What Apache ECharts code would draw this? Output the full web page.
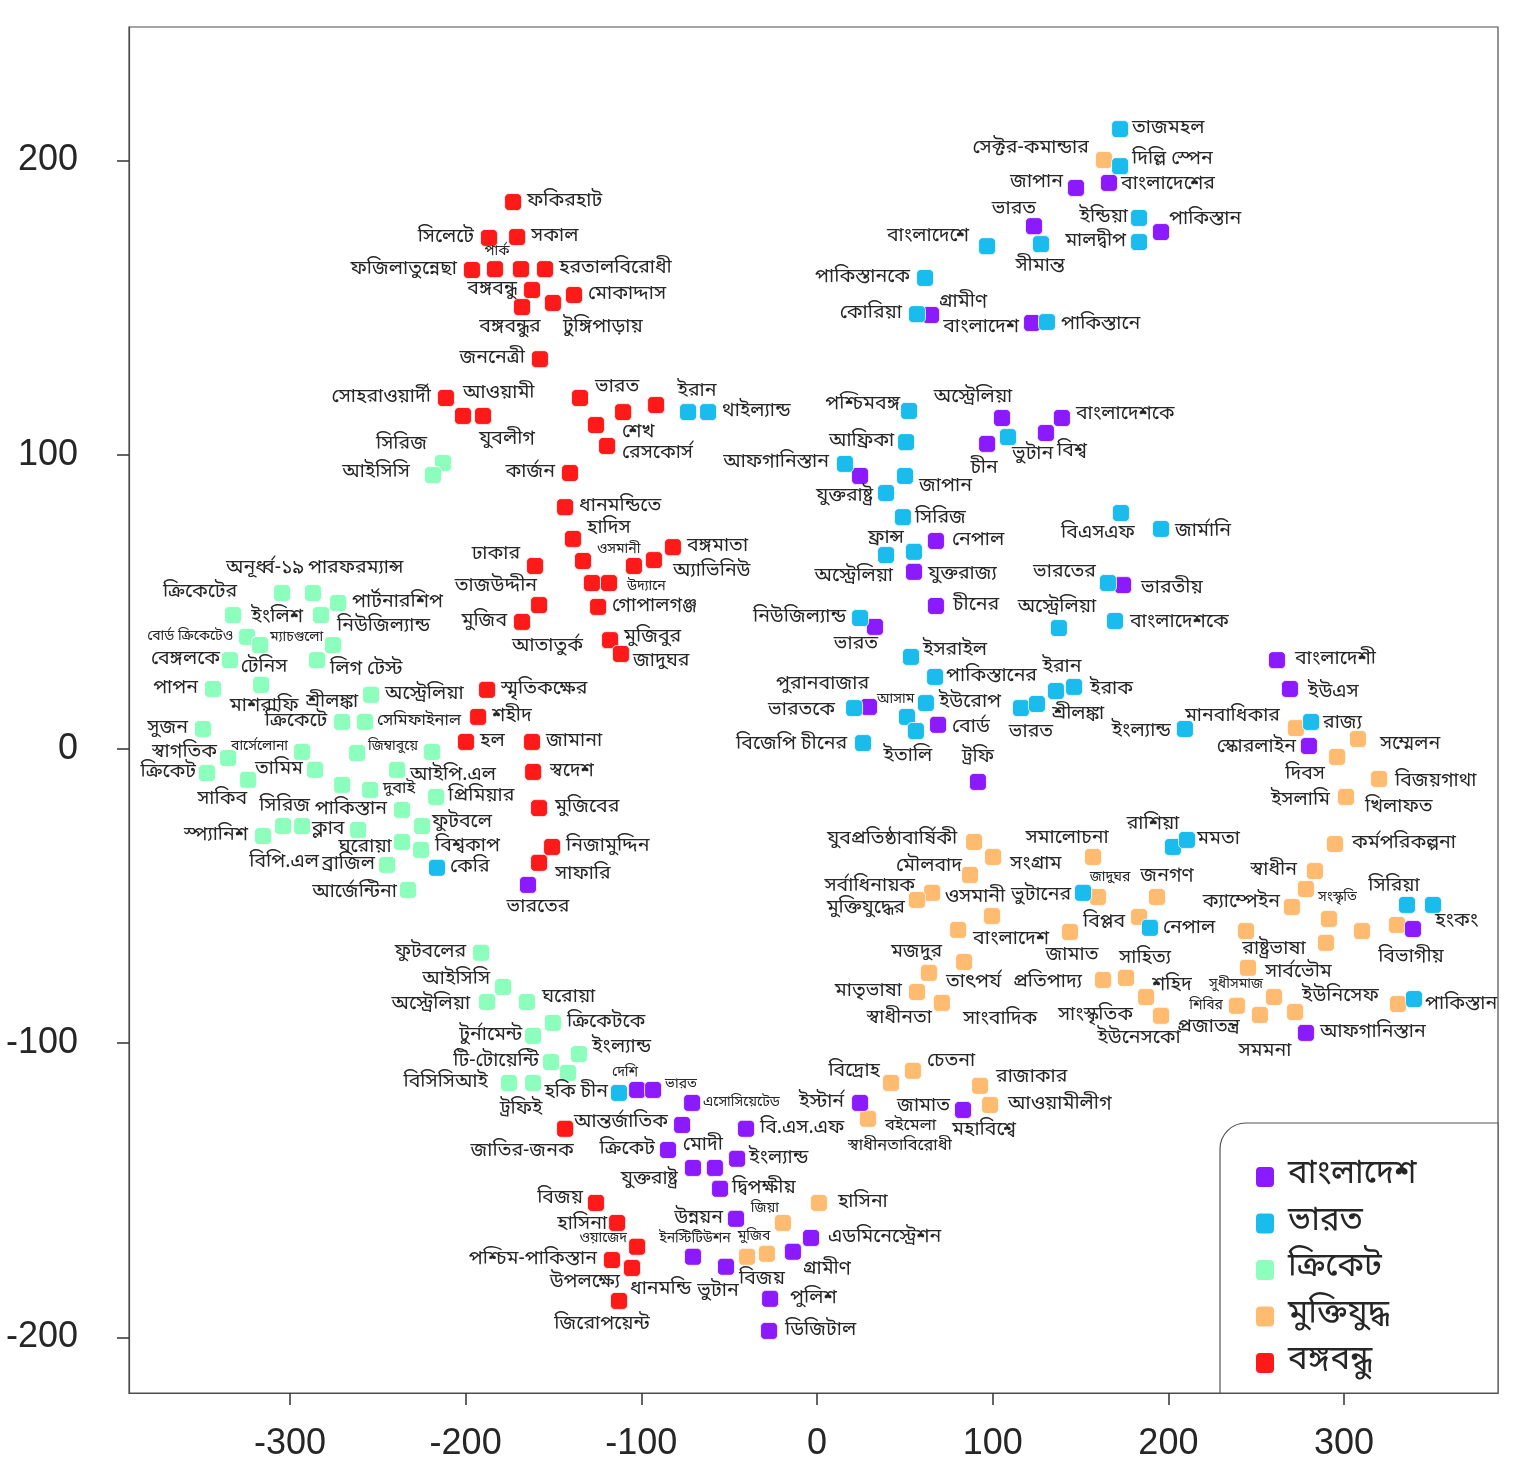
<!DOCTYPE html>
<html>
<head>
<meta charset="UTF-8">
<title>শব্দ ক্লাস্টার</title>
<script src="https://cdn.jsdelivr.net/npm/echarts@6.0.0/dist/echarts.min.js"></script>
<style>
  html, body { margin: 0; padding: 0; background: #fff; }
  #main { width: 1521px; height: 1478px; }
</style>
</head>
<body>
<div id="main"></div>
<script>
// legend order
var groupNames = ['বাংলাদেশ', 'ভারত', 'ক্রিকেট', 'মুক্তিযুদ্ধ', 'বঙ্গবন্ধু'];
var xTicks = [-300, -200, -100, 0, 100, 200, 300];
var yTicks = [-200, -100, 0, 100, 200];

// বঙ্গবন্ধু
var redWords = ['ফকিরহাট','সিলেটে','সকাল','ফজিলাতুন্নেছা','পার্ক','','হরতালবিরোধী','বঙ্গবন্ধু','মোকাদ্দাস','বঙ্গবন্ধুর','টুঙ্গিপাড়ায়','জননেত্রী','সোহরাওয়ার্দী','আওয়ামী','যুবলীগ','ভারত','শেখ','','','রেসকোর্স','কার্জন','ধানমন্ডিতে','হাদিস','ওসমানী','','অ্যাভিনিউ','বঙ্গমাতা','ঢাকার','','উদ্যানে','তাজউদ্দীন','গোপালগঞ্জ','মুজিব','মুজিবুর','আতাতুর্ক','জাদুঘর','স্মৃতিকক্ষের','শহীদ','হল','জামানা','স্বদেশ','মুজিবের','নিজামুদ্দিন','সাফারি','জাতির-জনক','বিজয়','হাসিনা','ওয়াজেদ','পশ্চিম-পাকিস্তান','উপলক্ষ্যে','ধানমন্ডি','জিরোপয়েন্ট'];
var redX = [-173.0,-186.7,-170.7,-196.4,-183.3,-168.5,-154.8,-162.2,-138.3,-167.9,-150.3,-157.7,-211.2,-201.5,-190.1,-134.9,-110.4,-91.6,-125.8,-119.5,-140.6,-143.4,-138.9,-133.2,-104.2,-92.8,-82.0,-160.5,-128.1,-118.4,-158.2,-124.6,-167.9,-117.8,-117.8,-111.6,-187.8,-192.9,-199.8,-162.2,-161.6,-158.2,-150.8,-158.2,-143.4,-125.8,-113.8,-102.4,-116.7,-105.3,-105.3,-112.7];
var redY = [185.9,173.7,174.0,162.8,163.1,163.1,163.1,156.0,154.3,150.2,151.6,132.5,119.3,113.2,113.2,119.3,114.5,116.9,110.1,103.0,93.8,82.2,71.4,63.9,62.2,64.2,68.6,62.2,56.4,56.4,48.9,48.3,43.2,37.0,37.0,32.3,20.1,10.9,2.4,2.4,-7.8,-20.1,-33.3,-38.7,-129.1,-154.3,-161.1,-169.2,-173.7,-176.4,-176.4,-187.6];

// ক্রিকেট
var mintWords = ['সিরিজ','আইসিসি','অনূর্ধ্ব-১৯','পারফরম্যান্স','পার্টনারশিপ','ক্রিকেটের','ইংলিশ','বোর্ড ক্রিকেটেও','ম্যাচগুলো','টেনিস','নিউজিল্যান্ড','বেঙ্গলকে','লিগ টেস্ট','মাশরাফি','পাপন','অস্ট্রেলিয়া','শ্রীলঙ্কা','সুজন','ক্রিকেটে','সেমিফাইনাল','স্বাগতিক','বার্সেলোনা','জিম্বাবুয়ে','','ক্রিকেট','সাকিব','তামিম','আইপি.এল','সিরিজ','দুবাই','প্রিমিয়ার','পাকিস্তান','ফুটবলে','স্প্যানিশ','বিপি.এল','ক্লাব','ঘরোয়া','','বিশ্বকাপ','ব্রাজিল','আর্জেন্টিনা','ফুটবলের','আইসিসি','অস্ট্রেলিয়া','ঘরোয়া','ক্রিকেটকে','টুর্নামেন্ট','ইংল্যান্ড','টি-টোয়েন্টি','হকি','বিসিসিআই','ট্রফিই'];
var mintX = [-212.9,-218.6,-304.5,-286.9,-272.6,-332.4,-282.3,-324.4,-317.0,-317.0,-275.5,-334.1,-284.6,-316.4,-343.8,-253.8,-253.8,-349.5,-270.3,-257.3,-335.2,-293.1,-261.8,-219.1,-347.2,-323.8,-285.7,-239.0,-270.3,-254.4,-216.8,-236.2,-224.8,-315.3,-303.9,-293.1,-261.2,-236.2,-225.4,-244.7,-232.8,-191.2,-178.7,-187.8,-165.1,-150.3,-161.6,-135.5,-151.4,-141.7,-175.3,-161.6];
var mintY = [97.2,93.1,53.0,53.0,49.6,45.5,45.5,38.1,35.3,35.3,35.3,30.2,30.2,21.8,20.4,18.4,18.4,6.8,9.2,9.2,-3.1,-1.0,-1.4,-1.0,-8.2,-10.5,-7.1,-7.1,-12.2,-13.9,-16.3,-20.7,-26.2,-29.6,-26.2,-26.2,-27.5,-31.6,-34.3,-39.4,-47.9,-69.3,-80.9,-86.0,-86.0,-93.1,-97.5,-103.7,-106.4,-110.1,-113.5,-113.5];

// ভারত
var cyanWords = ['তাজমহল','দিল্লি স্পেন','ইন্ডিয়া','মালদ্বীপ','বাংলাদেশে','সীমান্ত','পাকিস্তানকে','কোরিয়া','পাকিস্তানে','ইরান','থাইল্যান্ড','পশ্চিমবঙ্গ','আফ্রিকা','আফগানিস্তান','জাপান','যুক্তরাষ্ট্র','সিরিজ','ফ্রান্স','অস্ট্রেলিয়া','নিউজিল্যান্ড','ভুটান','বিএসএফ','জার্মানি','ভারতের','অস্ট্রেলিয়া','বাংলাদেশকে','ইসরাইল','পাকিস্তানের','ভারতকে','ইউরোপ','আসাম','ইতালি','বিজেপি চীনের','ভারত','শ্রীলঙ্কা','ইরান','ইরাক','ইংল্যান্ড','রাজ্য','রাশিয়া','মমতা','ভুটানের','নেপাল','সিরিয়া','','পাকিস্তান','কেরি','চীন'];
var cyanX = [172.5,172.5,183.3,183.3,96.8,127.5,61.5,56.9,130.9,-73.4,-62.0,52.4,50.7,15.9,50.1,39.3,48.9,55.2,39.3,24.5,108.7,173.0,195.8,165.6,137.7,169.6,53.5,67.2,21.1,62.0,51.2,56.3,26.2,116.1,125.2,136.0,146.3,209.4,281.2,202.6,210.6,151.4,189.5,335.8,350.6,339.8,-216.3,-112.7];
var cyanY = [210.7,198.1,180.5,172.3,170.9,171.6,160.1,147.8,145.1,114.5,114.5,114.9,104.3,96.9,92.8,87.0,78.8,67.0,65.9,44.5,106.0,80.2,74.8,56.4,41.1,43.5,31.3,24.5,13.9,15.6,10.9,6.1,2.0,13.9,15.3,19.7,21.1,6.8,9.2,-33.3,-30.9,-48.9,-60.8,-53.0,-53.0,-85.0,-40.4,-116.9];

// বাংলাদেশ
var purpleWords = ['বাংলাদেশের','জাপান','ভারত','পাকিস্তান','গ্রামীণ','বাংলাদেশ','অস্ট্রেলিয়া','বাংলাদেশকে','চীন','বিশ্ব','','নেপাল','যুক্তরাজ্য','চীনের','ভারত','ভারতীয়','পুরানবাজার','বোর্ড','ট্রফি','বাংলাদেশী','ইউএস','স্কোরলাইন','হংকং','আফগানিস্তান','ভারতের','দেশি','ভারত','এসোসিয়েটেড','আন্তর্জাতিক','বি.এস.এফ','ক্রিকেট','যুক্তরাষ্ট্র','মোদী','ইংল্যান্ড','দ্বিপক্ষীয়','উন্নয়ন','এডমিনেস্ট্রেশন','গ্রামীণ','ইনস্টিটিউশন','ভুটান','পুলিশ','ডিজিটাল','ইস্টার্ন','জামাত','মহাবিশ্বে'];
var purpleX = [166.2,147.4,123.5,195.8,64.9,122.4,105.3,139.4,96.8,130.3,24.5,67.7,55.2,67.7,33.0,174.2,29.6,68.9,91.6,261.8,269.2,280.0,339.2,278.3,-164.5,-102.4,-93.3,-71.1,-76.8,-40.4,-84.8,-70.6,-58.1,-45.5,-55.2,-46.1,-3.4,-13.7,-70.6,-51.8,-26.7,-27.3,24.5,83.1,83.1];
var purpleY = [192.4,190.7,177.7,175.7,147.5,144.8,112.5,112.5,103.7,107.4,92.8,70.7,60.2,48.6,41.5,55.7,14.3,8.2,-11.2,30.2,20.4,1.0,-61.2,-96.5,-46.2,-115.9,-115.9,-120.3,-127.8,-129.1,-136.3,-142.4,-142.4,-139.3,-149.5,-159.7,-166.2,-170.9,-172.6,-176.0,-186.9,-197.8,-120.3,-122.7,-122.7];

// মুক্তিযুদ্ধ
var orangeWords = ['সেক্টর-কমান্ডার','মানবাধিকার','সম্মেলন','দিবস','বিজয়গাথা','ইসলামি','খিলাফত','কর্মপরিকল্পনা','স্বাধীন','সংস্কৃতি','ক্যাম্পেইন','','','বিভাগীয়','রাষ্ট্রভাষা','','সার্বভৌম','সুধীসমাজ','শিবির','সমমনা','ইউনিসেফ','','যুবপ্রতিষ্ঠাবার্ষিকী','সংগ্রাম','মৌলবাদ','সমালোচনা','সর্বাধিনায়ক','মুক্তিযুদ্ধের','ওসমানী','বাংলাদেশ','মজদুর','তাৎপর্য','মাতৃভাষা','স্বাধীনতা','সাংবাদিক','জামাত','জাদুঘর','জনগণ','বিপ্লব','প্রতিপাদ্য','সাহিত্য','শহিদ','সাংস্কৃতিক','ইউনেসকো','প্রজাতন্ত্র','বিদ্রোহ','চেতনা','রাজাকার','বইমেলা','স্বাধীনতাবিরোধী','আওয়ামীলীগ','হাসিনা','জিয়া','মুজিব','বিজয়'];
var orangeX = [163.3,272.6,307.9,296.0,319.9,301.1,301.1,294.8,283.4,278.3,270.3,291.4,310.2,330.1,244.2,289.7,245.3,260.1,239.0,252.1,272.1,330.7,89.4,100.2,87.1,157.1,65.5,56.9,99.6,80.3,83.7,63.7,56.9,71.1,71.1,144.0,159.9,193.5,183.3,162.8,175.9,187.3,195.8,195.8,195.8,42.1,54.6,92.8,29.0,29.0,98.5,1.1,-19.4,-39.8,-28.5];
var orangeY = [200.2,7.1,3.4,-2.7,-10.2,-16.3,-16.3,-32.3,-41.5,-47.6,-53.7,-57.8,-61.9,-59.8,-61.9,-65.9,-74.4,-84.3,-87.3,-90.4,-89.4,-86.7,-31.6,-36.7,-42.8,-36.7,-48.9,-51.3,-56.8,-61.5,-72.4,-76.1,-82.6,-86.3,-86.3,-62.2,-50.3,-50.3,-57.1,-78.5,-77.8,-84.3,-90.7,-90.7,-90.7,-113.5,-109.4,-114.5,-125.7,-125.7,-121.0,-154.3,-161.1,-172.6,-171.6];

// label placement (style only): side, dx, dy in px from marker centre, size flag
var redPlace = ['r','l','r','l','c 2 -17 s','r','r','l','r','c -12 21','r 10 25','l','l','r 0 -22','c 24 24','r 15 -10','r -1 21','r','r','r 15 8','l','r','r 14 -10','r 14 -11 s','r','r 19 12','r','l -15 -11','r','r 18 4 s','l -2 -18','r','l','r 14 -2','l -27 7','r 12 8','r','r','r','r','r 17 0','r 16 0','r','r 16 12','c -43 23','l -13 -4','l -10 2','l -10 -7 s','l','l -12 15','r -2 22','c -17 24'];
var mintPlace = ['l -16 -18','l -23 -2','c -17 -24','r -5 -24','r','l 4 -22','l -18 3','l -14 0 s','r 10 -7 s','c 4 23','r 4 -18','l -10 0','r 13 10','c 3 22','l','r','l -13 8','l','l','r 12 0 m','l -11 -5','l -14 -5 s','r 11 -6 s','r','l -11 0','c -26 20','l -12 0','r 13 6','l -32 22','r 13 0 m','r 12 0','l','r 10 -3','l','c 1 37','r 10 4','c 7 18','r','r 14 -3','l -12 0','l -11 3','l','l -13 -7','l -17 3','r 15 -4','r','l -11 0','r 13 -6','l -12 0','c -8 20','l -21 0','c -12 27'];
var cyanPlace = ['r 12 0','r 12 -6','l -11 0','l -13 0','l -18 -9','c -1 23','l -15 0','l -15 0','r 14 3','c 9 -20','r 14 0','l -9 -6','l -12 0','l -16 -1','r 14 11','l -13 4','r 12 2','l -10 -13','l 7 22','l -14 0','r 4 18','c -23 21','r 14 3','l -12 -10','c -2 -20','r 15 2','r 12 -6','r 11 0','l -19 3','r 13 0','r -30 -17 s','c -8 26','l -16 2','c 10 25','r 15 11','c 6 -23','r 16 3','l -14 3','r 12 2','c -20 -22','r 10 0','l -12 3','r 13 1','c -13 -18','r','r 11 6','r 13 0','l -11 0'];
var purplePlace = ['r 12 2','l -13 -5','c -20 -16','r 8 -12','r 8 -12','l -13 5','c -29 -20','r 14 -3','c -3 25','r 11 19','r','r 16 0','r 14 3','r 17 0','c -19 18','r 18 4','l 0 -22','r 14 3','c 0 -24','r 18 0','r 18 4','l -13 2','r 22 -7','r 14 0','c 10 23','c -12 -17 s','r 12 -5 s','r 11 0 s','l -14 -2','r 14 0','l -13 0','l -15 12','c -12 -22','r 12 0','r 12 0','l -13 0','r 17 0','r 10 18','c 2 -17 s','c -8 25','r 20 0','r 16 0','l -16 0','l -13 -3','c 21 21'];
var orangePlace = ['l -15 -11','l -16 -11','r 22 6','c -32 18','r 16 3','l -16 4','r 19 11','r 17 0','l -18 0','r 12 9 s','l -12 -4','r','r','c 14 33','c 28 19','r','r 17 5','l -11 -12 s','l -14 0 s','c 5 37','r 7 -15','r','l -17 -2','r 17 8','l -8 -8','c -26 -18','l -17 -6','l -12 9','c -17 -18','r 15 10','l -22 -9','r 17 10','l -15 0','l -10 16','r 21 17','c 2 24','c 12 -19 s','c 10 -20','l -14 6','l -21 3','c 19 -19','r 6 -11','l -28 0','c -22 23','r 16 12','l -11 -11','r 14 -9','r 16 -8','r 17 8 m','c 32 28 m','r 18 0','r 19 0','c -18 -14 s','c 7 -19 s','c -5 26'];

var BN_FONT = "'Noto Sans Bengali', 'Noto Serif Bengali', 'Lohit Bengali', 'Mukti Narrow', 'FreeSans', 'FreeSerif', 'Noto Sans', sans-serif";

function place(code) {
  var p = code.split(' ');
  var side = p[0];
  var dx = p.length > 1 ? Number(p[1]) : (side === 'r' ? 14 : side === 'l' ? -15 : 0);
  var dy = p.length > 2 ? Number(p[2]) : 0;
  var size = p[3] === 's' ? 14 : (p[3] === 'm' ? 16.5 : 19.5);
  return {
    align: side === 'r' ? 'left' : (side === 'l' ? 'right' : 'center'),
    dx: dx, dy: dy, size: size
  };
}

function makeSeries(name, words, xs, ys, places, color) {
  var data = [];
  for (var i = 0; i < words.length; i++) {
    var p = place(places[i]);
    data.push({
      value: [xs[i], ys[i]],
      label: {
        show: words[i] !== '',
        formatter: words[i],
        align: p.align,
        offset: [p.dx, p.dy],
        fontSize: p.size
      }
    });
  }
  return {
    name: name,
    type: 'scatter',
    symbol: 'roundRect',
    symbolSize: 17,
    itemStyle: { color: color, borderColor: '#ffffff', borderWidth: 0.8, opacity: 1 },
    label: {
      show: true,
      position: 'inside',
      verticalAlign: 'middle',
      color: '#262626',
      fontFamily: BN_FONT
    },
    emphasis: { disabled: true },
    data: data
  };
}

var chart = echarts.init(document.getElementById('main'));

var option = {
  animation: false,
  backgroundColor: '#ffffff',
  grid: {
    left: 129, right: 23, top: 27, bottom: 85,
    show: true, borderColor: '#4d4d4d', borderWidth: 1.2, backgroundColor: '#ffffff'
  },
  xAxis: {
    type: 'value',
    min: -391.6, max: 387.6,
    axisLine: { show: true, onZero: false, lineStyle: { color: '#4d4d4d', width: 1.2 } },
    splitLine: { show: false },
    axisTick: { show: true, length: 12, customValues: xTicks, lineStyle: { color: '#333', width: 1.5 } },
    axisLabel: { customValues: xTicks, fontSize: 36, color: '#262626', margin: 33, fontFamily: "'Liberation Sans', Arial, sans-serif" }
  },
  yAxis: {
    type: 'value',
    min: -218.9, max: 245.4,
    axisLine: { show: true, onZero: false, lineStyle: { color: '#4d4d4d', width: 1.2 } },
    splitLine: { show: false },
    axisTick: { show: true, length: 12, customValues: yTicks, lineStyle: { color: '#333', width: 1.5 } },
    axisLabel: { customValues: yTicks, fontSize: 36, color: '#262626', margin: 51, fontFamily: "'Liberation Sans', Arial, sans-serif" }
  },
  legend: {
    data: groupNames,
    orient: 'vertical',
    left: 1254, top: 1157,
    padding: 0,
    itemWidth: 20, itemHeight: 22, itemGap: 6.5,
    icon: 'roundRect',
    selectedMode: false,
    z: 10,
    textStyle: { fontSize: 33, lineHeight: 40, color: '#262626', fontFamily: BN_FONT, padding: [0, 0, 0, 8] }
  },
  graphic: [{
    type: 'rect',
    z: 1,
    shape: { x: 1220, y: 1123, width: 278, height: 270, r: [26, 0, 0, 0] },
    style: { fill: '#ffffff', stroke: '#555555', lineWidth: 1.2 }
  }],
  series: [
    makeSeries('বঙ্গবন্ধু', redWords, redX, redY, redPlace, '#ff1a1a'),
    makeSeries('ক্রিকেট', mintWords, mintX, mintY, mintPlace, '#8dffbc'),
    makeSeries('মুক্তিযুদ্ধ', orangeWords, orangeX, orangeY, orangePlace, '#ffbc71'),
    makeSeries('বাংলাদেশ', purpleWords, purpleX, purpleY, purplePlace, '#8c1aff'),
    makeSeries('ভারত', cyanWords, cyanX, cyanY, cyanPlace, '#1abcee')
  ]
};

chart.setOption(option);
</script>
</body>
</html>
